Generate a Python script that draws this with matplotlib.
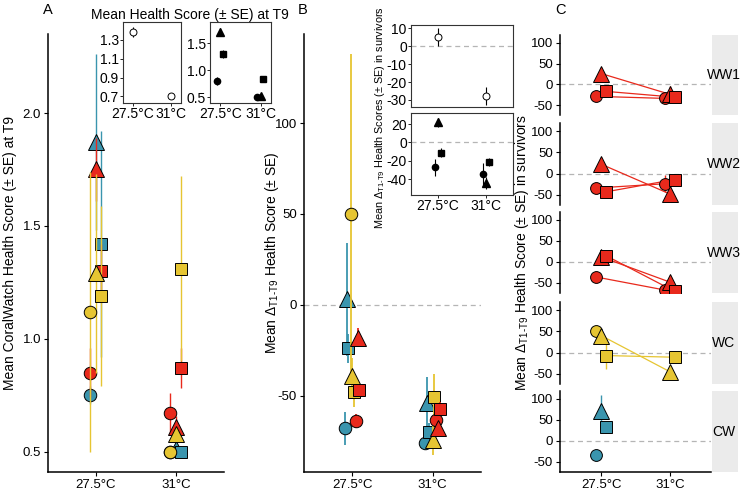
import matplotlib

matplotlib.use("Agg")
import matplotlib.pyplot as plt
import numpy as np

plt.rcParams["font.family"] = ["Liberation Sans", "DejaVu Sans"]
plt.rcParams["mathtext.fontset"] = "custom"
plt.rcParams["mathtext.rm"] = "Liberation Sans"
plt.rcParams["mathtext.it"] = "Liberation Sans:italic"
plt.rcParams["axes.unicode_minus"] = False

TEMPS = ["27.5°C", "31°C"]
# rows: genotype G1, G2, G3; columns: 27.5°C, 31°C

# Panel A: mean CoralWatch health score at T9
A_WW_MEAN = [[0.85, 0.67], [1.75, 0.61], [1.30, 0.87]]
A_WW_SE = [[0.11, 0.09], [0.14, 0.05], [0.12, 0.09]]
A_WC_MEAN = [[1.12, 0.50], [1.29, 0.58], [1.19, 1.31]]
A_WC_SE = [[0.62, 0.02], [0.44, 0.03], [0.40, 0.41]]
A_CW_MEAN = [[0.75, 0.50], [1.87, 0.51], [1.42, 0.50]]
A_CW_SE = [[0.04, 0.02], [0.39, 0.02], [0.50, 0.02]]

# Panel A insets: pooled and per genotype
A_ALL_MEAN = [1.385, 0.70]
A_ALL_SE = [0.05, 0.03]
A_GENO_MEAN = [[0.80, 0.50], [1.70, 0.52], [1.30, 0.83]]
A_GENO_SE = [[0.07, 0.02], [0.07, 0.02], [0.07, 0.05]]

# Panel B: mean change T1-T9
B_WW_MEAN = [[-64, -63.5], [-18, -68], [-47, -57.5]]
B_WW_SE = [[4, 4], [5, 5], [3, 4]]
B_WC_MEAN = [[50, np.nan], [-39, -74.5], [-48, -51]]
B_WC_SE = [[88, np.nan], [10, 8], [8, 13]]
B_CW_MEAN = [[-68, -76], [3, -54], [-24, -70]]
B_CW_SE = [[9, 4], [31, 14], [8, 5]]

# Panel B insets: survivors, pooled and per genotype
B_ALL_MEAN = [5, -28]
B_ALL_SE = [5, 5]
B_GENO_MEAN = [[-27, -34], [22, -44], [-11, -21]]
B_GENO_SE = [[9, 12], [5, 7], [5, 4]]

# Panel C: per source facet, survivors
C_FACETS = ["WW1", "WW2", "WW3", "WC", "CW"]
C_FACET_TREAT = ["WW", "WW", "WW", "WC", "CW"]
C_WW1_MEAN = [[-29, -34], [26, -24], [-17, -31]]
C_WW2_MEAN = [[-34, -24], [22, -48], [-43, -14]]
C_WW3_MEAN = [[-36, -67], [12, -48], [15, -70]]
C_WC_MEAN = [[51, np.nan], [40, -45], [-7, -11]]
C_CW_MEAN = [[-34, np.nan], [72, np.nan], [34, np.nan]]
C_WW1_SE = [[5, 5], [5, 20], [5, 5]]
C_WW2_SE = [[5, 20], [5, 5], [5, 5]]
C_WW3_SE = [[5, 5], [5, 5], [5, 5]]
C_WC_SE = [[5, np.nan], [5, 5], [32, 5]]
C_CW_SE = [[5, np.nan], [38, np.nan], [5, np.nan]]

COLORS = {"WW": "#E8291C", "WC": "#E6C532", "CW": "#3A95AE"}
MARKERS = ["o", "^", "s"]
W, H = 744, 494
DASH = dict(color="#B5B5B5", lw=0.9, ls=(0, (4, 3)), zorder=1)


def px_axes(fig, left, top, right, bottom):
    return fig.add_axes([left / W, 1 - bottom / H, (right - left) / W, (bottom - top) / H])


def classic(ax, size=9.5):
    for s in ("top", "right"):
        ax.spines[s].set_visible(False)
    for s in ("left", "bottom"):
        ax.spines[s].set_linewidth(1.1)
    ax.tick_params(direction="out", length=3, width=0.8, labelsize=size, pad=2)


def boxed(ax, size=10):
    for s in ax.spines.values():
        s.set_linewidth(0.8)
        s.set_color("#333333")
    ax.tick_params(direction="out", length=2, width=0.6, labelsize=size, pad=1)


def draw_group(ax, means, ses, color, offsets, sizes, z=3, lw=1.0, connect=False):
    for g, marker in enumerate(MARKERS):
        x = np.arange(1, 3) + offsets[g]
        m = np.asarray(means[g], dtype=float)
        e = np.asarray(ses[g], dtype=float)
        if connect:
            ax.plot(x, m, color=color, lw=0.9, zorder=z - 0.5)
        ax.vlines(x, m - e, m + e, color=color, lw=lw, zorder=z - 1)
        ax.plot(x, m, marker, ms=sizes[marker], mfc=color, mec="black",
                mew=0.7, ls="none", zorder=z)


fig = plt.figure(figsize=(W / 100, H / 100), dpi=100)

# ---------------- Panel A ----------------
axA = px_axes(fig, 48, 34, 224, 472)
classic(axA)
big = {"o": 9, "^": 11.5, "s": 9.2}
a_off = [-0.075, 0.0, 0.06]
for i, (t, m, e) in enumerate([("CW", A_CW_MEAN, A_CW_SE), ("WW", A_WW_MEAN, A_WW_SE),
                               ("WC", A_WC_MEAN, A_WC_SE)]):
    draw_group(axA, m, e, COLORS[t], a_off, big, z=3 + i * 2)
axA.set_xlim(0.4, 2.6)
axA.set_ylim(0.41, 2.35)
axA.set_yticks([0.5, 1.0, 1.5, 2.0])
axA.set_yticklabels(["0.5", "1.0", "1.5", "2.0"])
axA.set_xticks([1, 2])
axA.set_xticklabels(TEMPS)
fig.text(10 / W, 1 - 253 / H, "Mean CoralWatch Health Score (± SE) at T9",
         rotation=90, ha="center", va="center", size=10)

small = {"o": 4.5, "^": 5.5, "s": 4.5}
axA1 = px_axes(fig, 123, 22, 181, 103)
boxed(axA1)
x = np.arange(1, 3)
axA1.vlines(x, np.subtract(A_ALL_MEAN, A_ALL_SE), np.add(A_ALL_MEAN, A_ALL_SE),
            color="black", lw=0.8)
axA1.plot(x, A_ALL_MEAN, "o", ms=5, mfc="white", mec="black", mew=0.7, ls="none")
axA1.set_xlim(0.74, 2.26)
axA1.set_ylim(0.63, 1.49)
axA1.set_yticks([0.7, 0.9, 1.1, 1.3])
axA1.set_xticks([1, 2])
axA1.set_xticklabels(TEMPS)

axA2 = px_axes(fig, 210, 22, 271, 103)
boxed(axA2)
for g, marker in enumerate(MARKERS):
    xx = x + [-0.08, 0.0, 0.07][g]
    m = np.array(A_GENO_MEAN[g])
    e = np.array(A_GENO_SE[g])
    axA2.vlines(xx, m - e, m + e, color="black", lw=0.8)
    axA2.plot(xx, m, marker, ms=small[marker], color="black", ls="none")
axA2.set_xlim(0.74, 2.26)
axA2.set_ylim(0.39, 1.89)
axA2.set_yticks([0.5, 1.0, 1.5])
axA2.set_xticks([1, 2])
axA2.set_xticklabels(TEMPS)
fig.text(190 / W, 1 - 15 / H, "Mean Health Score (± SE) at T9",
         ha="center", va="center", size=10)

# ---------------- Panel B ----------------
axB = px_axes(fig, 304, 34, 481, 472)
classic(axB)
axB.axhline(0, **DASH)
b_col_off = {"CW": -0.07, "WC": 0.0, "WW": 0.065}
for i, (t, m, e) in enumerate([("CW", B_CW_MEAN, B_CW_SE), ("WC", B_WC_MEAN, B_WC_SE),
                               ("WW", B_WW_MEAN, B_WW_SE)]):
    offs = [b_col_off[t] - 0.02, b_col_off[t], b_col_off[t] + 0.02]
    draw_group(axB, m, e, COLORS[t], offs, big, z=3 + i * 2, lw=1.3)
axB.set_xlim(0.4, 2.6)
axB.set_ylim(-92, 149)
axB.set_yticks([-50, 0, 50, 100])
axB.set_xticks([1, 2])
axB.set_xticklabels(TEMPS)
fig.text(272 / W, 1 - 253 / H, r"Mean $\Delta_{\mathregular{T1‐T9}}$ Health Score (± SE)",
         rotation=90, ha="center", va="center", size=10)

axB1 = px_axes(fig, 411, 25, 513, 107)
boxed(axB1)
axB1.axhline(0, **DASH)
axB1.vlines(x, np.subtract(B_ALL_MEAN, B_ALL_SE), np.add(B_ALL_MEAN, B_ALL_SE),
            color="black", lw=0.8)
axB1.plot(x, B_ALL_MEAN, "o", ms=5, mfc="white", mec="black", mew=0.7, ls="none")
axB1.set_xlim(0.44, 2.56)
axB1.set_ylim(-33.9, 11.7)
axB1.set_yticks([-30, -20, -10, 0, 10])
axB1.set_xticks([1, 2])
axB1.set_xticklabels([])
axB1.tick_params(axis="x", length=0)

axB2 = px_axes(fig, 411, 113, 513, 195)
boxed(axB2)
axB2.axhline(0, **DASH)
for g, marker in enumerate(MARKERS):
    xx = x + [-0.06, 0.0, 0.06][g]
    m = np.array(B_GENO_MEAN[g])
    e = np.array(B_GENO_SE[g])
    axB2.vlines(xx, m - e, m + e, color="black", lw=0.8)
    axB2.plot(xx, m, marker, ms=small[marker], color="black", ls="none")
axB2.set_xlim(0.44, 2.56)
axB2.set_ylim(-57, 32)
axB2.set_yticks([-40, -20, 0, 20])
axB2.set_xticks([1, 2])
axB2.set_xticklabels(TEMPS)
fig.text(380 / W, 1 - 118 / H,
         r"Mean $\Delta_{\mathregular{T1‐T9}}$ Health Scores (± SE) in survivors",
         rotation=90, ha="center", va="center", size=7.8)

# ---------------- Panel C ----------------
facet_rows = [(35, 115), (123, 205), (212, 293), (302, 384), (391, 472)]
c_means = [C_WW1_MEAN, C_WW2_MEAN, C_WW3_MEAN, C_WC_MEAN, C_CW_MEAN]
c_ses = [C_WW1_SE, C_WW2_SE, C_WW3_SE, C_WC_SE, C_CW_SE]
mid = {"o": 8.5, "^": 11, "s": 8.5}
for k, (top, bottom) in enumerate(facet_rows):
    ax = px_axes(fig, 560, top, 711, bottom)
    classic(ax)
    ax.axhline(0, **DASH)
    draw_group(ax, c_means[k], c_ses[k], COLORS[C_FACET_TREAT[k]], [-0.07, 0.0, 0.07],
               mid, connect=True)
    ax.set_xlim(0.4, 2.6)
    ax.set_ylim(-74, 119)
    ax.set_yticks([-50, 0, 50, 100])
    ax.set_xticks([1, 2])
    if k < len(facet_rows) - 1:
        ax.spines["bottom"].set_visible(False)
        ax.tick_params(axis="x", length=0, labelbottom=False)
    else:
        ax.set_xticklabels(TEMPS)
    strip = px_axes(fig, 712, top, 738, bottom)
    strip.set_facecolor("#EBEBEB")
    for s in strip.spines.values():
        s.set_visible(False)
    strip.set_xticks([])
    strip.set_yticks([])
    strip.text(0.45, 0.5, C_FACETS[k], transform=strip.transAxes, ha="center",
               va="center", size=10, clip_on=False)
fig.text(522 / W, 1 - 253 / H,
         r"Mean $\Delta_{\mathregular{T1‐T9}}$ Health Score (± SE) in survivors",
         rotation=90, ha="center", va="center", size=10)

for label, px in (("A", 48), ("B", 303), ("C", 560)):
    fig.text(px / W, 1 - 10 / H, label, ha="center", va="center", size=10.5)

fig.savefig("out.png", dpi=100)
plt.close(fig)
